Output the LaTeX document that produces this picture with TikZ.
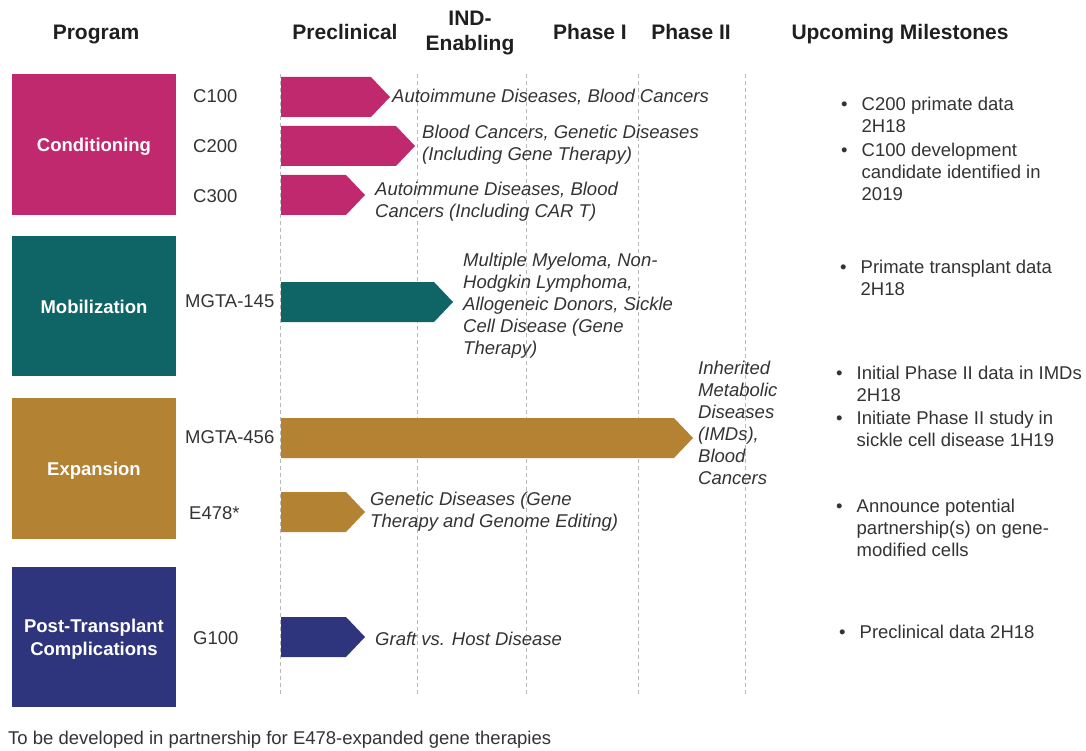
\documentclass[tikz,border=0pt]{standalone}
\usepackage{fontspec}
\setmainfont{Liberation Sans}
\usetikzlibrary{positioning}
\definecolor{condcol}{HTML}{C1296F}
\definecolor{mobcol}{HTML}{0F6566}
\definecolor{expcol}{HTML}{B38233}
\definecolor{postcol}{HTML}{2F357D}
\definecolor{inkcol}{HTML}{333333}

\begin{document}
\begin{tikzpicture}[x=1pt,y=-1pt,
  head/.style={font=\fontsize{21}{25}\selectfont\bfseries,text=black!88,align=center,inner sep=0pt},
  catbox/.style={minimum width=164pt,minimum height=141pt,text=white,inner sep=0pt,
    font=\fontsize{18.5}{23}\selectfont\bfseries,align=center},
  prog/.style={font=\fontsize{18.5}{22}\selectfont,text=inkcol,anchor=west,inner sep=0pt},
  note/.style={font=\fontsize{18.5}{22}\selectfont\itshape,text=inkcol,anchor=west,align=left,inner sep=0pt},
  mile/.style={font=\fontsize{18.5}{22}\selectfont,text=inkcol,anchor=west,inner sep=0pt},
  gridline/.style={draw=black!28,dash pattern=on 4pt off 3pt,line width=0.6pt}]
  \useasboundingbox(0,0)rectangle(1086,751);
  % column heads
  \node[head] (hprog) at (96,35) {Program};
  \node[head] (hpre) at (345,32) {Preclinical};
  \node[head] (hind) at (470,33) {IND-\\Enabling};
  \node[head] (hph1) at (590,32) {Phase I};
  \node[head] (hph2) at (691,32) {Phase II};
  \node[head] (hmile) at (900,34) {Upcoming Milestones};
  % phase separators
  \foreach \x in {280,417,526,638,745}
    \draw[gridline](\x,74)--(\x,695);
  % programs
  \fill[condcol](12,74)rectangle(176,215);
  \fill[mobcol](12,236)rectangle(176,376);
  \fill[expcol](12,398)rectangle(176,539);
  \fill[postcol](12,567)rectangle(176,707);
  \node[catbox] (cond) at (94,147) {Conditioning};
  \node[catbox] (mob) at (94,307) {Mobilization};
  \node[catbox] (exp) at (94,470.5) {Expansion};
  \node[catbox] (post) at (94,639) {Post-Transplant\\Complications};
  % candidates
  \node[prog] (lc100) at (193,96) {C100};
  \node[prog] (lc200) at (193,146) {C200};
  \node[prog] (lc300) at (193,196) {C300};
  \node[prog] (lm145) at (185,301) {MGTA-145};
  \node[prog] (lm456) at (185,437) {MGTA-456};
  \node[prog] (le478) at (189,513) {E478*};
  \node[prog] (lg100) at (193,638) {G100};
  % progress bars
  \foreach \name/\yc/\xt/\col in {c100/97/390/condcol,c200/146/415/condcol,c300/195/365/condcol,
      m145/302/453/mobcol,m456/438/693/expcol,e478/512/365/expcol,g100/637/365/postcol}{
    \fill[\col](281,\yc-20)--(\xt-19,\yc-20)--(\xt,\yc)--(\xt-19,\yc+20)--(281,\yc+20)--cycle;
    \coordinate (\name) at (\xt,\yc);
  }
  % indications
  \node[note] (tc100) at ([xshift=2pt]c100) {Autoimmune Diseases, Blood Cancers};
  \node[note] (tc200) at (422,145) {Blood Cancers, Genetic Diseases\\(Including Gene Therapy)};
  \node[note] (tc300) at (375,202) {Autoimmune Diseases, Blood\\Cancers (Including CAR T)};
  \node[note] (tm145) at (463,305.5) {Multiple Myeloma, Non-\\Hodgkin Lymphoma,\\Allogeneic Donors, Sickle\\Cell Disease (Gene\\Therapy)};
  \node[note] (tm456) at (698,422.5) {Inherited\\Metabolic\\Diseases\\(IMDs),\\Blood\\Cancers};
  \node[note] (te478) at (370,512) {Genetic Diseases (Gene\\Therapy and Genome Editing)};
  \node[note] (tg100) at (375,639) {Graft vs. Host Disease};
  % milestones
  \node[mile] (m1) at (841,117) {\begin{tabular}{@{}l@{\hspace{14pt}}l@{}}•&C200 primate data\\&2H18\end{tabular}};
  \node[mile] (m2) at (841,174) {\begin{tabular}{@{}l@{\hspace{14pt}}l@{}}•&C100 development\\&candidate identified in\\&2019\end{tabular}};
  \node[mile] (m3) at (840,280) {\begin{tabular}{@{}l@{\hspace{14pt}}l@{}}•&Primate transplant data\\&2H18\end{tabular}};
  \node[mile] (m4) at (836,386) {\begin{tabular}{@{}l@{\hspace{14pt}}l@{}}•&Initial Phase II data in IMDs\\&2H18\end{tabular}};
  \node[mile] (m5) at (836,431) {\begin{tabular}{@{}l@{\hspace{14pt}}l@{}}•&Initiate Phase II study in\\&sickle cell disease 1H19\end{tabular}};
  \node[mile] (m6) at (836,530) {\begin{tabular}{@{}l@{\hspace{14pt}}l@{}}•&Announce potential\\&partnership(s) on gene-\\&modified cells\end{tabular}};
  \node[mile] (m7) at (839,634) {\begin{tabular}{@{}l@{\hspace{14pt}}l@{}}•&Preclinical data 2H18\end{tabular}};
  % footnote
  \node[mile] (foot) at (8,740) {To be developed in partnership for E478-expanded gene therapies};
\end{tikzpicture}
\end{document}
